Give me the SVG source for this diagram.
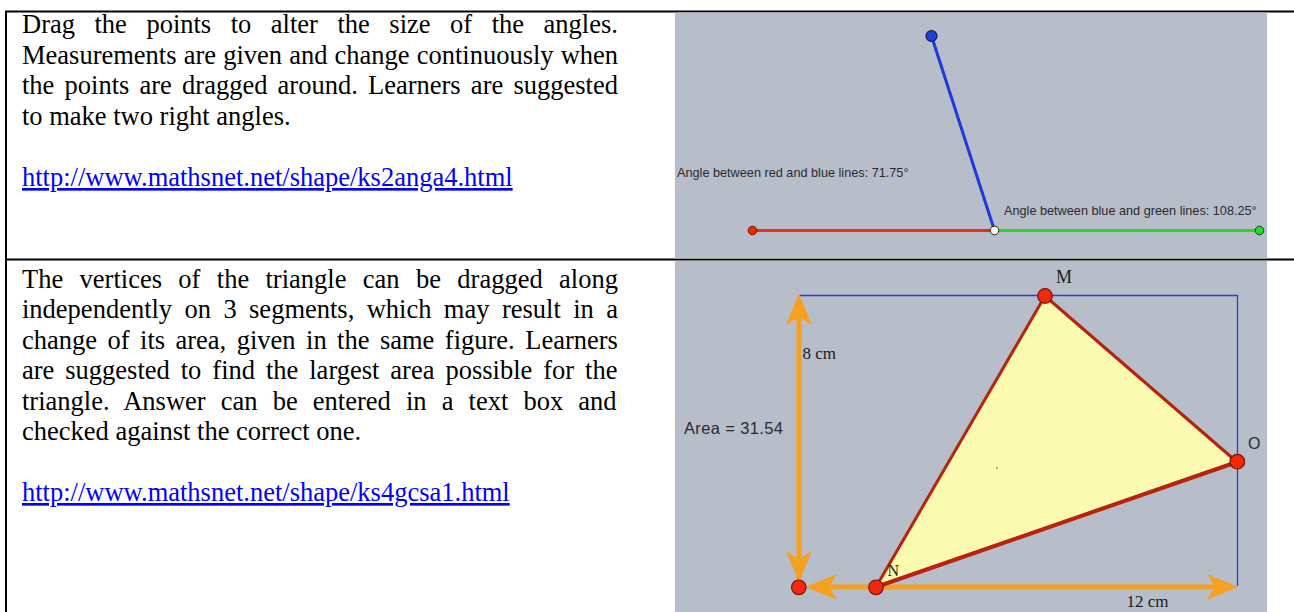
<svg xmlns="http://www.w3.org/2000/svg" width="1294" height="612" viewBox="0 0 1294 612">
<style>
.t{font-family:"Liberation Serif","Times New Roman",serif;font-size:26.5px;fill:#000;font-variant-ligatures:none}
.lnk{fill:#0000ff;text-decoration:underline}
.s{font-family:"Liberation Sans",Arial,sans-serif;fill:#2a2a2a}
.sf{font-family:"Liberation Serif","Times New Roman",serif;fill:#1a1a1a}
.bg{fill:#b8bdca}
.border{stroke:#000;stroke-width:2;fill:none}
.or{stroke:#f5a01e;stroke-width:5;fill:none}
.oh{fill:#f5a01e}
.rd{fill:#ee2a0a;stroke:#7a1208;stroke-width:1.2}
.blue{stroke:#2a3fe0;stroke-width:1.3;fill:none}
</style>
<defs>
<path id="ah" d="M0,0 L-13,31 L0,23 L13,31 Z"/>
</defs>
<rect width="1294" height="612" fill="#fff"/>

<g id="table">
<line class="border" x1="5" y1="11.5" x2="1294" y2="11.5"/>
<line class="border" x1="5" y1="259.5" x2="1294" y2="259.5"/>
<line class="border" x1="6" y1="11" x2="6" y2="612"/>
</g>

<g id="text-row1">
<text class="t" x="22" y="33" word-spacing="12.9">Drag the points to alter the size of the angles.</text>
<text class="t" x="22" y="63.5" word-spacing="0.5">Measurements are given and change continuously when</text>
<text class="t" x="22" y="94" word-spacing="3.56">the points are dragged around. Learners are suggested</text>
<text class="t" x="22" y="124.5">to make two right angles.</text>
<text class="t lnk" x="22" y="186">http://www.mathsnet.net/shape/ks2anga4.html</text>
</g>

<g id="text-row2">
<text class="t" x="22" y="287.5" word-spacing="9.74">The vertices of the triangle can be dragged along</text>
<text class="t" x="22" y="318" word-spacing="5.77">independently on 3 segments, which may result in a</text>
<text class="t" x="22" y="348.5" word-spacing="3.83">change of its area, given in the same figure. Learners</text>
<text class="t" x="22" y="379" word-spacing="4.32">are suggested to find the largest area possible for the</text>
<text class="t" x="22" y="409.5" word-spacing="8.5">triangle. Answer can be entered in a text box and</text>
<text class="t" x="22" y="440">checked against the correct one.</text>
<text class="t lnk" x="22" y="501">http://www.mathsnet.net/shape/ks4gcsa1.html</text>
</g>

<g id="angles-figure">
<rect class="bg" x="675" y="12.5" width="592" height="246"/>
<text class="s" x="677" y="176.5" font-size="12.7">Angle between red and blue lines: 71.75°</text>
<text class="s" x="1004" y="214.5" font-size="12.7">Angle between blue and green lines: 108.25°</text>
<line x1="752.5" y1="230.5" x2="994.5" y2="230.5" stroke="#ee2c12" stroke-width="3"/>
<line x1="994.5" y1="230.5" x2="1259.5" y2="230.5" stroke="#22dd22" stroke-width="3"/>
<line x1="931.5" y1="36" x2="994.5" y2="230.5" stroke="#1f38dd" stroke-width="3"/>
<circle cx="931.5" cy="36" r="5.5" fill="#1c3fd8" stroke="#0d1a50" stroke-width="1.2"/>
<circle cx="752.5" cy="230.5" r="4.3" fill="#ee2a0a" stroke="#6a1008" stroke-width="1"/>
<circle cx="1259.5" cy="230.5" r="4.3" fill="#22dd22" stroke="#0d4010" stroke-width="1"/>
<circle cx="994.5" cy="230.5" r="4.3" fill="#ffffff" stroke="#222" stroke-width="1"/>
</g>

<g id="triangle-figure">
<rect class="bg" x="675" y="261" width="592" height="351"/>
<polyline class="blue" points="799.5,295.5 1237.5,295.5 1237.5,586"/>
<line class="or" x1="799" y1="300" x2="799" y2="585"/>
<line class="or" x1="810" y1="587" x2="1232" y2="587"/>
<use href="#ah" class="oh" transform="translate(799,294)"/>
<use href="#ah" class="oh" transform="translate(799,582) rotate(180)"/>
<use href="#ah" class="oh" transform="translate(806,587) rotate(-90)"/>
<use href="#ah" class="oh" transform="translate(1238,587) rotate(90)"/>
<polygon points="1045,296 1237,462 876,587" fill="#fafab0" stroke="#b8220e" stroke-width="3" stroke-linejoin="round"/>
<line x1="1237" y1="462" x2="876" y2="587" stroke="#b8220e" stroke-width="4"/>
<circle cx="997" cy="468" r="0.8" fill="#555"/>
<circle class="rd" cx="1045" cy="296" r="7.3"/>
<circle class="rd" cx="1237.3" cy="461.7" r="7.3"/>
<circle class="rd" cx="876" cy="587.3" r="7.3"/>
<circle class="rd" cx="798.8" cy="587.3" r="7.3"/>
<text class="sf" x="1056" y="283" font-size="18">M</text>
<text class="s" x="1248" y="448.5" font-size="16">O</text>
<text class="sf" x="887.5" y="576" font-size="16">N</text>
<text class="sf" x="802.5" y="359" font-size="17">8 cm</text>
<text class="s" x="684" y="433.5" font-size="16.5" textLength="99">Area = 31.54</text>
<text class="sf" x="1126.5" y="607" font-size="17">12 cm</text>
</g>
</svg>
